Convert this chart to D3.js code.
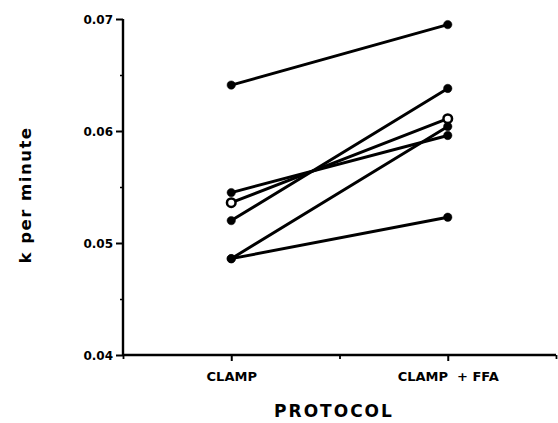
<!DOCTYPE html>
<html><head><meta charset="utf-8">
<script src="https://cdn.jsdelivr.net/npm/d3@7"></script>
<style>
body{margin:0;background:#fff;}
svg{display:block;}
text{font-family:"DejaVu Sans",sans-serif;font-weight:bold;fill:#000;}
</style></head>
<body>
<svg id="c" width="558" height="423"></svg>
<script>
const categories = ["CLAMP", "CLAMP  + FFA"];
const clampValues = [0.0641, 0.0545, 0.0536, 0.0520, 0.0486, 0.0486];
const ffaValues   = [0.0695, 0.0596, 0.0611, 0.0638, 0.0604, 0.0523];
const openSubject = [false, false, true, false, false, false];
const yTicks = [0.04, 0.05, 0.06, 0.07];
const yMinorTicks = [0.045, 0.055, 0.065];

const svg = d3.select("#c");
const x = d3.scaleLinear().domain([0, 4]).range([123, 556]);
const catPos = [1, 3];
const y = d3.scaleLinear().domain([0.04, 0.07]).range([355, 19]);

// Y axis
const yAxis = d3.axisLeft(y).tickValues(yTicks).tickSize(7).tickPadding(3)
  .tickFormat(d3.format(".2f"));
const gy = svg.append("g").attr("transform", `translate(${x(0)},0)`).call(yAxis);
gy.select(".domain").attr("stroke", "#000").attr("stroke-width", 2.4).attr("d", `M0,${y(0.07)}V${y(0.04)}`);
gy.selectAll(".tick line").attr("stroke", "#000").attr("stroke-width", 2);
gy.selectAll(".tick text").style("font-size", "12px").style("font-family", "DejaVu Sans").style("font-weight", "bold").attr("dy", "0.36em");
const gyMinor = svg.append("g").attr("transform", `translate(${x(0)},0)`)
  .call(d3.axisLeft(y).tickValues(yMinorTicks).tickSize(3).tickFormat(""));
gyMinor.select(".domain").remove();
gyMinor.selectAll(".tick line").attr("stroke", "#000").attr("stroke-width", 1.5);

// X axis
const xAxis = d3.axisBottom(x).tickValues(catPos).tickSize(6).tickPadding(11)
  .tickFormat((d, i) => categories[i]);
const gx = svg.append("g").attr("transform", `translate(0,${y(0.04)})`).call(xAxis);
gx.select(".domain").attr("stroke", "#000").attr("stroke-width", 2.4).attr("d", `M${x(0)},0H${x(4)}`);
gx.selectAll(".tick line").attr("stroke", "#000").attr("stroke-width", 2);
gx.selectAll(".tick text").style("font-size", "13px").style("font-family", "DejaVu Sans").style("font-weight", "bold").style("white-space", "pre");
const gxMinor = svg.append("g").attr("transform", `translate(0,${y(0.04)})`)
  .call(d3.axisBottom(x).tickValues([0, 2, 4]).tickSize(4).tickFormat(""));
gxMinor.select(".domain").remove();
gxMinor.selectAll(".tick line").attr("stroke", "#000").attr("stroke-width", 1.8);

// Lines
const subjects = clampValues.map((v, i) => ({a: v, b: ffaValues[i], open: openSubject[i]}));
svg.append("g").selectAll("line").data(subjects).join("line")
  .attr("x1", x(catPos[0])).attr("y1", d => y(d.a))
  .attr("x2", x(catPos[1])).attr("y2", d => y(d.b))
  .attr("stroke", "#000").attr("stroke-width", 2.9).attr("stroke-linecap", "round");

// Markers
const pts = [];
subjects.forEach(s => {
  pts.push({cx: x(catPos[0]), v: s.a, open: s.open});
  pts.push({cx: x(catPos[1]), v: s.b, open: s.open});
});
svg.append("g").selectAll("circle").data(pts).join("circle")
  .attr("cx", d => d.cx).attr("cy", d => y(d.v))
  .attr("r", d => d.open ? 4.3 : 4.2)
  .attr("fill", d => d.open ? "#fff" : "#000")
  .attr("stroke", "#000").attr("stroke-width", d => d.open ? 2.5 : 0.5);

// Titles
svg.append("text").attr("x", 334).attr("y", 417).attr("text-anchor", "middle")
  .style("font-size", "17px").style("letter-spacing", "2px").text("PROTOCOL");
svg.append("text").attr("transform", "translate(31,195) rotate(-90)").attr("text-anchor", "middle")
  .style("font-size", "16.5px").style("letter-spacing", "1.5px").text("k per minute");
</script>
</body></html>
